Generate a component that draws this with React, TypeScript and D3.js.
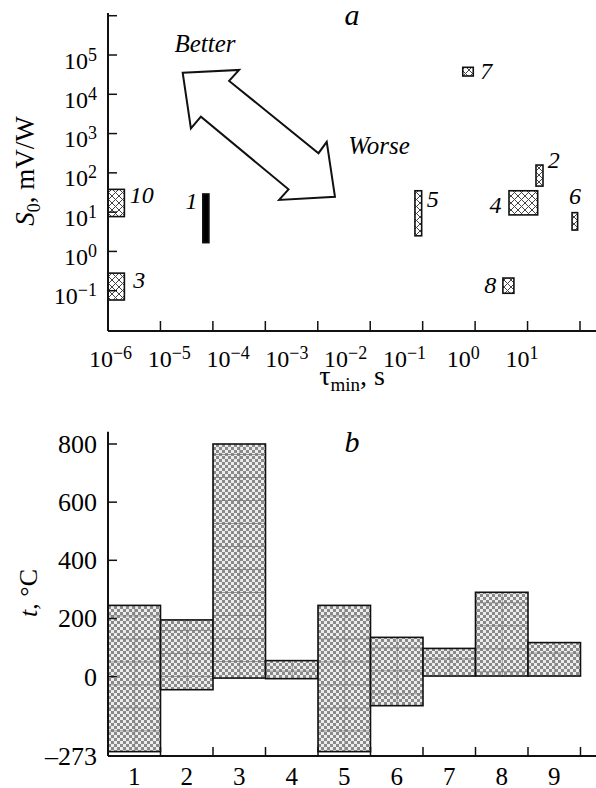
import React from "react";
import * as d3 from "d3";

// ---------- Panel a data ----------
const itemIds = ["10", "3", "1", "5", "4", "2", "6", "8", "7"];
const tauLo = [1e-6, 1e-6, 4.1e-5, 0.166, 6.6, 19, 78, 5.2, 1.08];
const tauHi = [1.9e-6, 1.9e-6, 5.2e-5, 0.216, 20.3, 25, 97, 8, 1.63];
const sLo = [7.7, 0.058, 1.67, 2.5, 8.5, 46, 3.5, 0.086, 29200];
const sHi = [38, 0.28, 29, 35, 35, 158, 9.7, 0.21, 48600];
const itemSolid = [false, false, true, false, false, false, false, false, false];
// label anchor positions (log10 tau, log10 S)
const labelLogTau = [-5.63, -5.57, -4.68, -0.58, 0.49, 1.48, 1.84, 0.4, 0.33];
const labelLogS = [1.23, -0.93, 1.08, 1.14, 0.99, 2.12, 1.21, -1.07, 4.39];

const tauLabelExps = [-6, -5, -4, -3, -2, -1, 0, 1];
const sTickExps = [-1, 0, 1, 2, 3, 4, 5, 6];
const sLabelExps = [-1, 0, 1, 2, 3, 4, 5];
const tauTickIdx = [1, 2, 3, 4, 5, 6, 7, 8, 9];

// double arrow outline (log10 tau, log10 S)
const arrowLogTau = [-4.73, -3.77, -3.94, -2.42, -2.28, -2.14, -3.09, -2.93, -4.42, -4.59];
const arrowLogS = [4.55, 4.62, 4.34, 2.5, 2.79, 1.39, 1.31, 1.58, 3.43, 3.13];
const betterPos = [-4.35, 5.08];
const worsePos = [-1.39, 2.48];

// ---------- Panel b data ----------
const cats = ["1", "2", "3", "4", "5", "6", "7", "8", "9"];
const tTop = [245, 195, 800, 55, 245, 135, 97, 290, 117];
const tBottom = [-258, -45, -5, -7, -258, -100, 2, 2, 2];
const tTicks = [800, 600, 400, 200, 0];
const tMin = -273;

const FONT = "'Liberation Serif', 'Times New Roman', serif";

function sup(e: number) {
  return e < 0 ? "\u2212" + Math.abs(e) : String(e);
}

export default function App() {
  const W = 596, H = 788;
  // panel a scales
  const axA = 108, axAtop = 13, axAbottom = 331, axRight = 596;
  const xA = d3.scaleLog().domain([1e-6, 1e1]).range([axA, 519.6]);
  const yA = d3.scaleLog().domain([1e-1, 1e5]).range([290.7, 55]);
  const tickA = d3.scaleLinear().domain([0, 9]).range([axA, 580]);

  // panel b scales
  const axBtop = 431.7, axBbottom = 756;
  const xB = d3.scaleBand().domain(cats).range([axA, 580.5]).padding(0);
  const yB = d3.scaleLinear().domain([tMin, 800]).range([axBbottom, 444]);

  const arrowPts = arrowLogTau.map((lt, i) => [xA(Math.pow(10, lt)), yA(Math.pow(10, arrowLogS[i]))] as [number, number]);
  const arrowPath = d3.line()(arrowPts) + "Z";

  const bw = xB.bandwidth();

  return (
    <svg width={W} height={H} viewBox={`0 0 ${W} ${H}`}
      style={{ position: "absolute", left: 0, top: 0, background: "#fff" }}
      fontFamily={FONT}>
      <defs>
        <pattern id="xhatch" patternUnits="userSpaceOnUse" width={7} height={7}>
          <rect width={7} height={7} fill="#fff" />
          <path d="M0,0L7,7M7,0L0,7M-1,6L1,8M6,-1L8,1M-1,1L1,-1M6,8L8,6" stroke="#444" strokeWidth={1} />
        </pattern>
        <pattern id="chk" patternUnits="userSpaceOnUse" width={6} height={6}>
          <rect width={6} height={6} fill="#ededed" />
          <rect width={3} height={3} fill="#8a8a8a" />
          <rect x={3} y={3} width={3} height={3} fill="#8a8a8a" />
        </pattern>
        {cats.map((c, i) => (
          <pattern key={c} id={`grid${i}`} patternUnits="userSpaceOnUse"
            x={xB(c)! + bw / 2} y={yB(tTop[i]) + 10} width={bw / 2} height={23}>
            <path d={`M0,0V23M0,0H${bw / 2}`} stroke="#777" strokeWidth={1.3} fill="none" />
          </pattern>
        ))}
      </defs>

      {/* ================= Panel a ================= */}
      <path d={arrowPath} fill="#fff" stroke="#111" strokeWidth={2} strokeLinejoin="miter" />
      <text x={xA(Math.pow(10, betterPos[0]))} y={yA(Math.pow(10, betterPos[1]))} textAnchor="middle"
        fontSize={25} fontStyle="italic">Better</text>
      <text x={xA(Math.pow(10, worsePos[0]))} y={yA(Math.pow(10, worsePos[1]))} textAnchor="middle"
        fontSize={25} fontStyle="italic">Worse</text>

      {itemIds.map((id, i) => {
        const x0 = xA(tauLo[i]), x1 = xA(tauHi[i]);
        const y0 = yA(sHi[i]), y1 = yA(sLo[i]);
        return (
          <g key={id}>
            <rect x={x0} y={y0} width={x1 - x0} height={y1 - y0}
              fill={itemSolid[i] ? "#000" : "url(#xhatch)"} stroke="#111" strokeWidth={1.6} />
            <text x={xA(Math.pow(10, labelLogTau[i]))} y={yA(Math.pow(10, labelLogS[i]))}
              fontSize={24} fontStyle="italic">{id}</text>
          </g>
        );
      })}

      {/* axes a */}
      <line x1={axA} x2={axA} y1={axAtop} y2={axAbottom} stroke="#111" strokeWidth={2} />
      <line x1={axA} x2={axRight} y1={axAbottom} y2={axAbottom} stroke="#111" strokeWidth={2} />
      {sTickExps.map(e => (
        <line key={e} x1={axA} x2={axA + 9} y1={yA(Math.pow(10, e))} y2={yA(Math.pow(10, e))} stroke="#111" strokeWidth={1.5} />
      ))}
      {sLabelExps.map(e => (
        <text key={e} x={97} y={yA(Math.pow(10, e)) + 13.5} textAnchor="end" fontSize={24}>
          <tspan>10</tspan><tspan dy={-8} fontSize={18}>{sup(e)}</tspan>
        </text>
      ))}
      {tauTickIdx.map(k => (
        <line key={k} x1={tickA(k)} x2={tickA(k)} y1={axAbottom} y2={axAbottom - 10} stroke="#111" strokeWidth={1.5} />
      ))}
      {tauLabelExps.map(e => (
        <text key={e} x={xA(Math.pow(10, e)) + 2.5} y={366.7} textAnchor="middle" fontSize={24}>
          <tspan>10</tspan><tspan dy={-8} fontSize={18}>{sup(e)}</tspan>
        </text>
      ))}
      <text x={352} y={385} textAnchor="middle" fontSize={28}>
        <tspan>τ</tspan><tspan fontSize={19} dy={6}>min</tspan><tspan dy={-6}>, s</tspan>
      </text>
      <text transform="translate(34,171) rotate(-90)" textAnchor="middle" fontSize={27}>
        <tspan fontStyle="italic">S</tspan><tspan fontSize={18} dy={6}>0</tspan><tspan dy={-6}>, mV/W</tspan>
      </text>
      <text x={352} y={25} textAnchor="middle" fontSize={30} fontStyle="italic">a</text>

      {/* ================= Panel b ================= */}
      {cats.map((c, i) => {
        const x0 = xB(c)!;
        const y0 = yB(tTop[i]), y1 = yB(tBottom[i]);
        return (
          <g key={c}>
            <rect x={x0} y={y0} width={bw} height={y1 - y0} fill="url(#chk)" />
            <rect x={x0} y={y0} width={bw} height={y1 - y0} fill={`url(#grid${i})`} />
            <rect x={x0} y={y0} width={bw} height={y1 - y0} fill="none" stroke="#111" strokeWidth={1.6} />
          </g>
        );
      })}
      <line x1={axA} x2={axA} y1={axBtop} y2={axBbottom} stroke="#111" strokeWidth={2} />
      <line x1={axA} x2={axRight} y1={axBbottom} y2={axBbottom} stroke="#111" strokeWidth={2} />
      {tTicks.map(t => (
        <line key={t} x1={axA} x2={axA + 9} y1={yB(t)} y2={yB(t)} stroke="#111" strokeWidth={1.5} />
      ))}
      {[...tTicks, tMin].map(t => (
        <text key={t} x={97} y={yB(t) + 9} textAnchor="end" fontSize={26}>{t < 0 ? "\u2013" + Math.abs(t) : t}</text>
      ))}
      {cats.map(c => (
        <line key={c} x1={xB(c)! + bw} x2={xB(c)! + bw} y1={axBbottom} y2={axBbottom - 9} stroke="#111" strokeWidth={1.5} />
      ))}
      {cats.map(c => (
        <text key={c} x={xB(c)! + bw / 2} y={785} textAnchor="middle" fontSize={25}>{c}</text>
      ))}
      <text transform="translate(37,593) rotate(-90)" textAnchor="middle" fontSize={26}>
        <tspan fontStyle="italic">t</tspan><tspan>, °C</tspan>
      </text>
      <text x={352} y={451.7} textAnchor="middle" fontSize={30} fontStyle="italic">b</text>
    </svg>
  );
}
